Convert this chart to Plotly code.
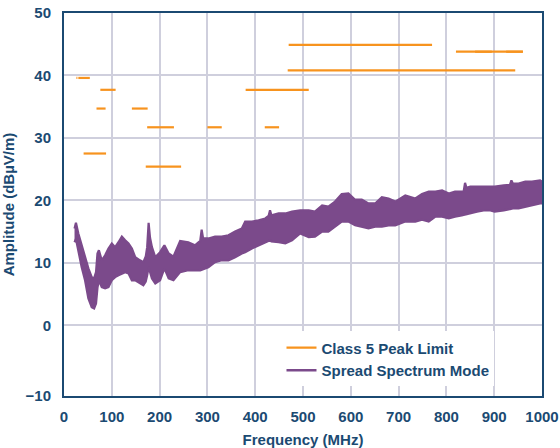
import plotly.graph_objects as go

# ---- Data ----
# Class 5 peak limit segments (start MHz, end MHz, level dBuV/m)
limit_start = [26, 30, 41, 68, 76, 142, 171, 174, 300, 380, 420, 468, 470, 820, 860, 925]
limit_end   = [28, 54, 88, 87, 108, 175, 245, 230, 330, 512, 450, 944, 770, 960, 895, 960]
limit_level = [39.6, 39.6, 27.5, 34.7, 37.7, 34.7, 25.4, 31.7, 31.7, 37.7, 31.7, 40.8, 44.9, 43.8, 43.8, 43.8]

# Spread spectrum mode emission envelope (MHz, upper dB, lower dB)
ss_freq = [22, 25, 30, 37, 44, 51, 58, 63, 67, 70, 73, 79, 86, 93, 100, 107, 114, 121, 128, 135,
           142, 149, 159, 166, 171, 174, 177, 180, 184, 191, 201, 210, 219, 229, 243, 260, 274, 285,
           288, 291, 302, 316, 330, 344, 358, 372, 379, 393, 407, 421, 428, 431, 434, 449, 463, 477,
           494, 512, 525, 540, 553, 567, 581, 595, 609, 623, 637, 651, 665, 679, 693, 714, 735, 749,
           763, 777, 791, 805, 818, 832, 836, 839, 842, 850, 864, 878, 892, 901, 920, 933, 936, 939,
           951, 965, 979, 996, 1000]
ss_upper = [15.5, 16.4, 14.7, 12.8, 10.7, 9.1, 7.7, 7.5, 8.5, 11.5, 12.0, 10.4, 11.2, 12.3, 13.1, 12.5,
            13.3, 14.2, 13.6, 13.1, 12.3, 10.9, 10.4, 10.1, 11.0, 12.5, 16.4, 14.0, 12.5, 10.9, 11.7,
            12.8, 11.5, 11.0, 13.5, 13.3, 12.8, 13.5, 15.3, 13.9, 13.9, 14.2, 14.2, 14.4, 15.0, 15.5,
            16.6, 16.6, 16.8, 17.1, 17.5, 18.4, 17.6, 17.9, 17.9, 18.2, 18.4, 18.4, 18.2, 19.2, 19.0,
            19.8, 21.0, 21.1, 20.1, 20.1, 19.5, 19.5, 20.5, 20.3, 19.8, 20.8, 20.3, 21.0, 21.4, 21.4,
            21.6, 21.1, 21.4, 21.4, 21.4, 22.8, 22.0, 22.2, 22.2, 22.2, 22.2, 22.2, 22.4, 22.5, 23.2,
            22.7, 22.7, 23.0, 23.0, 23.2, 23.0]
ss_lower = [13.3, 13.8, 11.7, 9.3, 7.2, 4.3, 2.9, 2.7, 3.5, 6.0, 7.2, 6.1, 5.9, 6.1, 7.2, 7.7,
            8.0, 8.3, 8.5, 8.3, 7.2, 7.2, 6.7, 6.4, 7.0, 8.0, 9.3, 8.5, 7.5, 6.7, 7.2,
            9.1, 7.5, 7.2, 8.5, 8.8, 8.8, 8.8, 8.8, 9.0, 9.3, 10.1, 10.4, 10.4, 10.9, 11.5,
            11.7, 12.3, 12.8, 13.3, 13.5, 13.6, 13.4, 13.3, 13.1, 13.6, 14.7, 14.1, 14.2, 15.0, 15.0,
            15.8, 16.6, 16.6, 16.0, 15.8, 15.5, 15.8, 15.8, 16.0, 16.0, 16.6, 16.6, 16.9, 16.6, 17.4,
            17.4, 17.1, 17.4, 17.6, 17.6, 17.7, 17.8, 17.9, 18.2, 18.4, 18.4, 18.2, 18.4, 18.6, 18.7,
            18.7, 18.7, 19.0, 19.2, 19.5, 19.5]

x_ticks = [0, 100, 200, 300, 400, 500, 600, 700, 800, 900, 1000]
y_bottom = -11.33
y_ticks = [y_bottom, 0, 10, 20, 30, 40, 50]
y_ticktext = ["−10", "0", "10", "20", "30", "40", "50"]

NAVY = "#1b4a72"
ORANGE = "#f7931e"
PURPLE = "#7b4a8b"
GRID = "#cfcfdd"
FONT = "Liberation Sans, Arial, sans-serif"

# Build limit line trace with gaps
lx, ly = [], []
for s, e, v in zip(limit_start, limit_end, limit_level):
    lx += [s, e, None]
    ly += [v, v, None]

fig = go.Figure()

# Spread spectrum band as a closed polygon
fig.add_trace(go.Scatter(
    x=ss_freq + ss_freq[::-1],
    y=ss_upper + ss_lower[::-1],
    fill="toself", fillcolor=PURPLE,
    line=dict(color=PURPLE, width=2.2),
    mode="lines", showlegend=False, hoverinfo="skip"))

fig.add_trace(go.Scatter(
    x=lx, y=ly, mode="lines", name="Class 5 Peak Limit",
    line=dict(color=ORANGE, width=2.2)))

fig.add_trace(go.Scatter(
    x=[None], y=[None], mode="lines", name="Spread Spectrum Mode",
    line=dict(color=PURPLE, width=2.5)))

fig.update_layout(
    width=560, height=448,
    margin=dict(l=64, r=18, t=13, b=52, autoexpand=False),
    paper_bgcolor="white", plot_bgcolor="white",
    font=dict(family=FONT, color=NAVY, size=15, weight="bold"),
    showlegend=True,
    legend=dict(
        x=0.455, xanchor="left", y=0.025, yanchor="bottom",
        bgcolor="white", borderwidth=0,
        font=dict(family=FONT, color=NAVY, size=15, weight="bold"),
        itemwidth=30, tracegroupgap=0),
)

fig.update_xaxes(
    range=[0, 1000], tickvals=x_ticks, automargin=False,
    showgrid=True, gridcolor=GRID, gridwidth=1.5,
    showline=True, linecolor=NAVY, linewidth=2, mirror=True,
    ticks="", ticklabelstandoff=6, zeroline=False,
    tickfont=dict(family=FONT, color=NAVY, size=15, weight="bold"),
    title=dict(text="Frequency (MHz)", standoff=12,
               font=dict(family=FONT, color=NAVY, size=15, weight="bold")))

fig.update_yaxes(
    range=[y_bottom, 50], tickvals=y_ticks, ticktext=y_ticktext, automargin=False,
    showgrid=True, gridcolor=GRID, gridwidth=1.5,
    showline=True, linecolor=NAVY, linewidth=2, mirror=True,
    ticks="", ticklabelstandoff=8, zeroline=False,
    tickfont=dict(family=FONT, color=NAVY, size=15, weight="bold"),
    title=dict(text="Amplitude (dBµV/m)", standoff=10,
               font=dict(family=FONT, color=NAVY, size=15, weight="bold")))

fig.write_html("out.html")
